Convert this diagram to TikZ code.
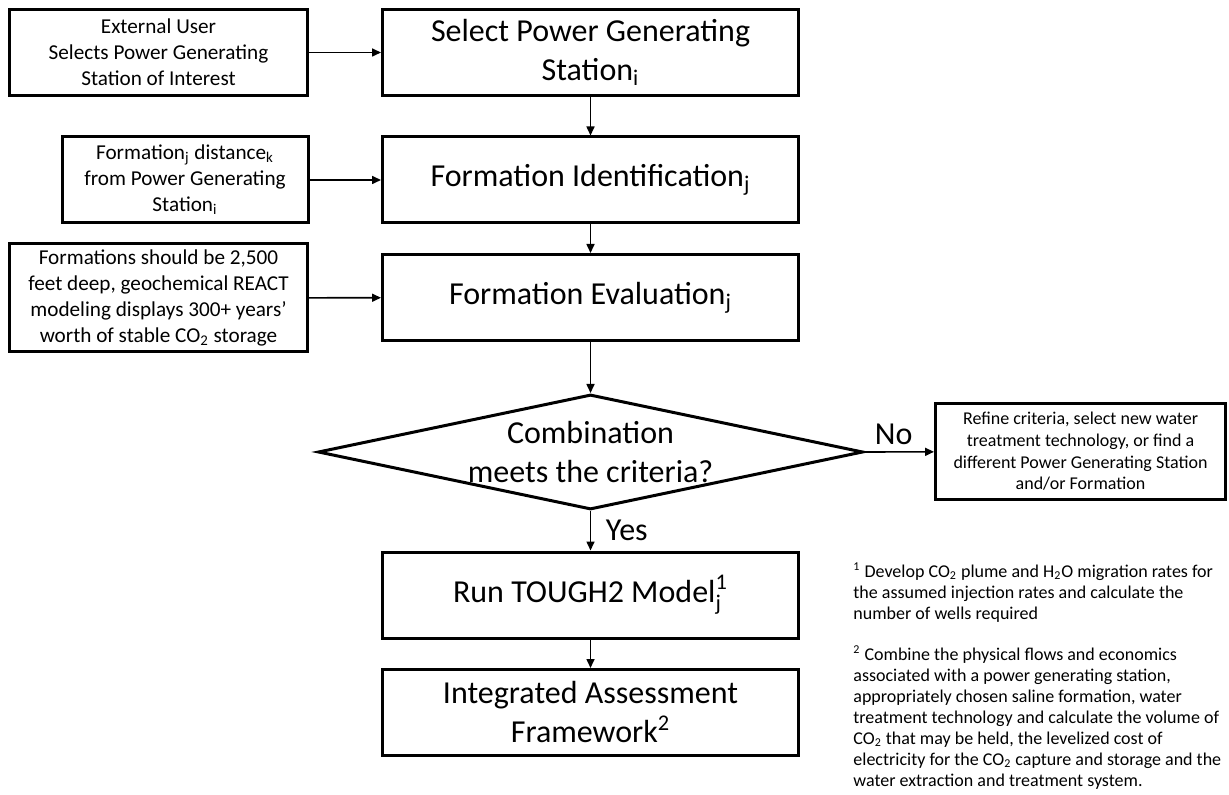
\documentclass[tikz,border=0pt]{standalone}
\usepackage{amsmath}
\usepackage{fontspec}
\setmainfont{Carlito}
\usetikzlibrary{shapes.geometric,arrows.meta,positioning}

\begin{document}
\begin{tikzpicture}[x=0.5pt,y=-0.5pt,
  mainbox/.style={draw, line width=1.5pt, minimum width=208pt, minimum height=43pt, align=center, inner sep=2pt, font=\fontsize{16}{19.5}\selectfont},
  inbox/.style={draw, line width=1.5pt, minimum width=149pt, minimum height=43pt, align=center, inner sep=2pt, font=\fontsize{10.6}{13}\selectfont},
  notetext/.style={align=left, inner sep=0pt, font=\fontsize{9}{10.5}\selectfont},
  flow/.style={line width=0.8pt, -{Triangle[length=4.5pt,width=4pt]}}]
\useasboundingbox (0,0) rectangle (1229,795);

\node[mainbox] (select) at (590.5,52.5) {Select Power Generating\\Station\textsubscript{i}};
\node[mainbox] (ident) at (590.5,180) {Formation Identification\textsubscript{j}};
\node[mainbox] (eval) at (590.5,297.5) {Formation Evaluation\textsubscript{j}};
\node[draw, diamond, line width=1.5pt, minimum width=272.5pt, minimum height=57.5pt, inner sep=0pt] (check) at (590.5,452) {};
\node[align=center, font=\fontsize{16}{19.5}\selectfont] (checktext) at (check.center) {Combination\\meets the criteria?};
\node[mainbox] (tough) at (590.5,595) {Run TOUGH2 Model$_{\text{j}}^{\text{1}}$};
\node[mainbox] (iaf) at (590.5,712.5) {Integrated Assessment\\Framework\textsuperscript{2}};

\node[inbox] (user) at (158.5,52.5) {External User\\Selects Power Generating\\Station of Interest};
\node[inbox, minimum width=123pt] (dist) at (185,180) {Formation\textsubscript{j} distance\textsubscript{k}\\from Power Generating\\Station\textsubscript{i}};
\node[inbox, minimum height=54pt] (crit) at (158.5,298) {Formations should be 2,500\\feet deep, geochemical REACT\\modeling displays 300+ years'\\worth of stable CO\textsubscript{2} storage};
\node[inbox, minimum width=145pt, minimum height=48pt, font=\fontsize{9}{10.8}\selectfont] (refine) at (1080.5,451.5) {Refine criteria, select new water\\treatment technology, or find a\\different Power Generating Station\\and/or Formation};

\node[notetext, anchor=north west] (note1) at (853,562) {\textsuperscript{1} Develop CO\textsubscript{2} plume and H\textsubscript{2}O migration rates for\\the assumed injection rates and calculate the\\number of wells required};
\node[notetext, anchor=north west] (note2) at (853,645) {\textsuperscript{2} Combine the physical flows and economics\\associated with a power generating station,\\appropriately chosen saline formation, water\\treatment technology and calculate the volume of\\CO\textsubscript{2} that may be held, the levelized cost of\\electricity for the CO\textsubscript{2} capture and storage and the\\water extraction and treatment system.};

\draw[flow] (user) -- (select);
\draw[flow] (dist) -- (ident);
\draw[flow] (crit) -- (eval);
\draw[flow] (select) -- (ident);
\draw[flow] (ident) -- (eval);
\draw[flow] (eval) -- (check);
\draw[flow] (check.south) -- node[right, xshift=4pt, font=\fontsize{16}{19.5}\selectfont] (yes) {Yes} (tough);
\draw[flow] (tough) -- (iaf);
\draw[flow] (check.east) -- node[above, pos=0.42, font=\fontsize{16}{19.5}\selectfont] (no) {No} (refine);
\end{tikzpicture}
\end{document}
